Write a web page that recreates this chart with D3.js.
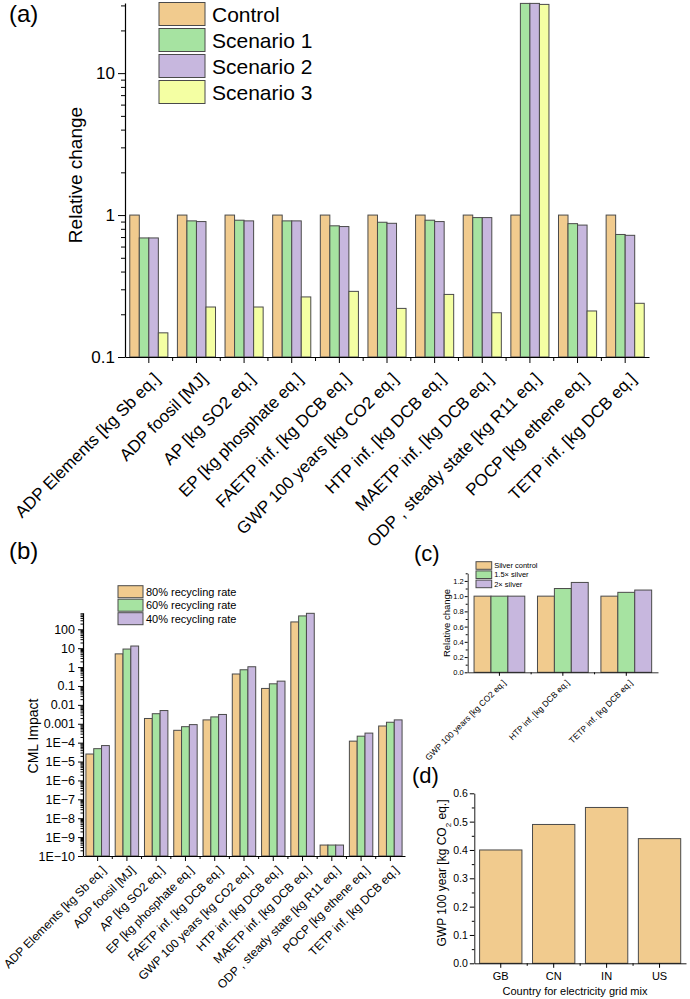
<!DOCTYPE html>
<html>
<head>
<meta charset="utf-8">
<script src="https://cdn.jsdelivr.net/npm/d3@7"></script>
<style>
  body { margin: 0; background: #fff; }
  svg { font-family: Arial, "Liberation Sans", sans-serif; }
  text { fill: #000; }
</style>
</head>
<body>
<div id="chart"></div>
<script>
// ---------- data ----------
const impactCats = ['ADP Elements [kg Sb eq.]', 'ADP foosil [MJ]', 'AP [kg SO2 eq.]', 'EP [kg phosphate eq.]',
  'FAETP inf. [kg DCB eq.]', 'GWP 100 years [kg CO2 eq.]', 'HTP inf. [kg DCB eq.]', 'MAETP inf. [kg DCB eq.]',
  'ODP , steady state [kg R11 eq.]', 'POCP [kg ethene eq.]', 'TETP inf. [kg DCB eq.]'];

// (a) relative change
const scenarioNames = ['Control', 'Scenario 1', 'Scenario 2', 'Scenario 3'];
const control   = [1, 1, 1, 1, 1, 1, 1, 1, 1, 1, 1];
const scenario1 = [0.69, 0.91, 0.92, 0.91, 0.84, 0.89, 0.92, 0.96, 31, 0.87, 0.73];
const scenario2 = [0.69, 0.90, 0.91, 0.91, 0.83, 0.875, 0.90, 0.96, 31, 0.85, 0.72];
const scenario3 = [0.148, 0.225, 0.225, 0.265, 0.29, 0.22, 0.276, 0.205, 30.5, 0.211, 0.239];
const ticksA = [0.1, 1, 10];

// (b) CML impact
const rateNames = ['80% recycling rate', '60% recycling rate', '40% recycling rate'];
const rate80 = [2.5e-5, 5, 0.0019, 4.5e-4, 0.0016, 0.43, 0.074, 245, 3.8e-10, 1.2e-4, 7.6e-4];
const rate60 = [4.8e-5, 9, 0.0034, 7e-4, 0.0023, 0.72, 0.13, 510, 3.8e-10, 2.2e-4, 0.0012];
const rate40 = [7e-5, 13, 0.005, 9e-4, 0.0031, 1.04, 0.18, 700, 3.8e-10, 3.2e-4, 0.0016];
const ticksB = [1e-10, 1e-9, 1e-8, 1e-7, 1e-6, 1e-5, 1e-4, 0.001, 0.01, 0.1, 1, 10, 100];
const tickLabelsB = ['1E\u221210', '1E\u22129', '1E\u22128', '1E\u22127', '1E\u22126', '1E\u22125', '1E\u22124',
  '0.001', '0.01', '0.1', '1', '10', '100'];

// (c) silver
const silverCats = ['GWP 100 years [kg CO2 eq.]', 'HTP inf. [kg DCB eq.]', 'TETP inf. [kg DCB eq.]'];
const silverNames = ['Silver control', '1.5\u00d7 silver', '2\u00d7 silver'];
const silverControl = [1, 1, 1];
const silver15 = [1, 1.1, 1.05];
const silver2 = [1, 1.18, 1.08];
const ticksC = [0, 0.2, 0.4, 0.6, 0.8, 1.0, 1.2];

// (d) grid mix
const countries = ['GB', 'CN', 'IN', 'US'];
const gwpByGrid = [0.4, 0.49, 0.55, 0.44];
const ticksD = [0, 0.1, 0.2, 0.3, 0.4, 0.5, 0.6];

// ---------- setup ----------
const orange = '#F1CB8E', green = '#A6E3A1', purple = '#C7B7DE', yellow = '#F4FFA3';
const outline = '#4a4a4a';

const svg = d3.select('#chart').append('svg')
  .attr('width', 690).attr('height', 999);

function drawBars(g, x, y, cats, seriesList, colors, base) {
  const x1 = d3.scaleBand()
    .domain(d3.range(seriesList.length))
    .range([x.bandwidth() * 0.1, x.bandwidth() * 0.9]);
  seriesList.forEach((vals, s) => {
    g.append('g').selectAll('rect')
      .data(vals)
      .enter()
      .append('rect')
      .attr('x', (d, i) => x(cats[i]) + x1(s))
      .attr('y', d => y(d))
      .attr('width', x1.bandwidth())
      .attr('height', d => base - y(d))
      .attr('fill', colors[s])
      .attr('stroke', outline)
      .attr('stroke-width', 1);
  });
}

function styleAxis(g, size) {
  g.selectAll('.domain').attr('stroke', '#000').attr('stroke-width', 1.2);
  g.selectAll('.tick line').attr('stroke', '#000');
  g.selectAll('text').style('font-size', size + 'px').attr('fill', '#000');
}

// minor ticks on a band axis, at the borders between categories
function bandMinor(g, x, cats, yPos, len) {
  g.append('g').selectAll('line')
    .data(cats.slice(1))
    .enter()
    .append('line')
    .attr('x1', d => x(d)).attr('x2', d => x(d))
    .attr('y1', yPos).attr('y2', yPos + len)
    .attr('stroke', '#000');
}

function legend(g, names, colors, x0, y0, w, h, step, size, gap) {
  names.forEach((n, i) => {
    g.append('rect')
      .attr('x', x0).attr('y', y0 + i * step)
      .attr('width', w).attr('height', h)
      .attr('fill', colors[i]).attr('stroke', outline);
    g.append('text')
      .attr('x', x0 + w + gap).attr('y', y0 + i * step + h / 2)
      .attr('dy', '0.36em')
      .attr('fill', '#000')
      .style('font-size', size + 'px')
      .text(n);
  });
}

// ---------- (a) ----------
const gA = svg.append('g');
const xA = d3.scaleBand().domain(impactCats).range([125, 649]);
const yA = d3.scaleLog().domain([0.1, 31.2]).range([357, 3]);

drawBars(gA, xA, yA, impactCats, [control, scenario1, scenario2, scenario3],
  [orange, green, purple, yellow], yA(0.1));

gA.append('g')
  .attr('transform', 'translate(125,0)')
  .call(d3.axisLeft(yA).tickValues(yA.ticks().filter(v => !ticksA.includes(v))).tickSize(4).tickFormat(''))
  .call(g => g.select('.domain').remove())
  .call(g => styleAxis(g, 17));
gA.append('g')
  .attr('transform', 'translate(125,0)')
  .call(d3.axisLeft(yA).tickValues(ticksA).tickSize(7).tickSizeOuter(0).tickFormat(d => String(d)))
  .call(g => styleAxis(g, 17));

gA.append('g')
  .attr('transform', 'translate(0,357)')
  .call(d3.axisBottom(xA).tickSize(6).tickSizeOuter(0))
  .call(g => styleAxis(g, 17))
  .call(g => g.selectAll('text')
    .attr('y', 0).attr('dy', 0)
    .attr('text-anchor', 'end')
    .attr('transform', 'translate(12,23) rotate(-45)'));
bandMinor(gA, xA, impactCats, 357, 4);

gA.append('text')
  .attr('transform', 'translate(82,175) rotate(-90)')
  .attr('text-anchor', 'middle')
  .style('font-size', '19px')
  .text('Relative change');

legend(gA, scenarioNames, [orange, green, purple, yellow], 159, 2.5, 46, 23, 26, 21, 7);

svg.append('text').attr('x', 9).attr('y', 22).style('font-size', '24px').text('(a)');

// ---------- (b) ----------
const gB = svg.append('g');
const xB = d3.scaleBand().domain(impactCats).range([83, 405]);
const yB = d3.scaleLog().domain([1e-10, 755]).range([856, 612.7]);

drawBars(gB, xB, yB, impactCats, [rate80, rate60, rate40], [orange, green, purple], yB(1e-10));

gB.append('g')
  .attr('transform', 'translate(83,0)')
  .call(d3.axisLeft(yB).tickValues(yB.ticks(30).filter(v => !ticksB.includes(v))).tickSize(2.5).tickFormat(''))
  .call(g => g.select('.domain').remove())
  .call(g => styleAxis(g, 12));
gB.append('g')
  .attr('transform', 'translate(83,0)')
  .call(d3.axisLeft(yB).tickValues(ticksB).tickSize(5).tickSizeOuter(0).tickFormat((d, i) => tickLabelsB[i]))
  .call(g => styleAxis(g, 12.5));

gB.append('g')
  .attr('transform', 'translate(0,856)')
  .call(d3.axisBottom(xB).tickSize(5).tickSizeOuter(0))
  .call(g => styleAxis(g, 12))
  .call(g => g.selectAll('text')
    .attr('y', 0).attr('dy', 0)
    .attr('text-anchor', 'end')
    .attr('transform', 'translate(9,15) rotate(-45)'));
bandMinor(gB, xB, impactCats, 856, 3);

gB.append('text')
  .attr('transform', 'translate(38,736) rotate(-90)')
  .attr('text-anchor', 'middle')
  .style('font-size', '14px')
  .text('CML Impact');

legend(gB, rateNames, [orange, green, purple], 118, 585.7, 25, 12, 13.5, 11, 3);

svg.append('text').attr('x', 9).attr('y', 559).style('font-size', '24px').text('(b)');

// ---------- (c) ----------
const gC = svg.append('g');
const xC = d3.scaleBand().domain(silverCats).range([467.7, 658]);
const yC = d3.scaleLinear().domain([0, 1.3]).range([672.3, 573.3]);

drawBars(gC, xC, yC, silverCats, [silverControl, silver15, silver2], [orange, green, purple], yC(0));

gC.append('g')
  .attr('transform', 'translate(467.7,0)')
  .call(d3.axisLeft(yC).tickValues([0.1, 0.3, 0.5, 0.7, 0.9, 1.1, 1.3]).tickSize(2).tickFormat(''))
  .call(g => g.select('.domain').remove())
  .call(g => styleAxis(g, 7.5));
gC.append('g')
  .attr('transform', 'translate(467.7,0)')
  .call(d3.axisLeft(yC).tickValues(ticksC).tickSize(3).tickSizeOuter(0).tickPadding(1).tickFormat(d3.format('.1f')))
  .call(g => styleAxis(g, 7.5))
  .call(g => g.select('.domain').attr('stroke-width', 0.8));

gC.append('g')
  .attr('transform', 'translate(0,672.3)')
  .call(d3.axisBottom(xC).tickSize(3.5).tickSizeOuter(0))
  .call(g => styleAxis(g, 8.5))
  .call(g => g.select('.domain').attr('stroke-width', 0.8))
  .call(g => g.selectAll('text')
    .attr('y', 0).attr('dy', 0)
    .attr('text-anchor', 'end')
    .attr('transform', 'translate(7,11) rotate(-45)'));
bandMinor(gC, xC, silverCats, 672.3, 2);

gC.append('text')
  .attr('transform', 'translate(450,623) rotate(-90)')
  .attr('text-anchor', 'middle')
  .style('font-size', '9.5px')
  .text('Relative change');

legend(gC, silverNames, [orange, green, purple], 476, 561.7, 15.7, 7.6, 9.2, 7.5, 2.5);

svg.append('text').attr('x', 414).attr('y', 561).style('font-size', '22px').text('(c)');

// ---------- (d) ----------
const gD = svg.append('g');
const xD = d3.scaleBand().domain(countries).range([474.3, 686]);
const yD = d3.scaleLinear().domain([0, 0.6]).range([963.3, 793.3]);

drawBars(gD, xD, yD, countries, [gwpByGrid], [orange], yD(0));

gD.append('g')
  .attr('transform', 'translate(474.3,0)')
  .call(d3.axisLeft(yD).tickValues([0.05, 0.15, 0.25, 0.35, 0.45, 0.55]).tickSize(2.5).tickFormat(''))
  .call(g => g.select('.domain').remove())
  .call(g => styleAxis(g, 10));
gD.append('g')
  .attr('transform', 'translate(474.3,0)')
  .call(d3.axisLeft(yD).tickValues(ticksD).tickSize(4.5).tickSizeOuter(0).tickPadding(2).tickFormat(d3.format('.1f')))
  .call(g => styleAxis(g, 10.5))
  .call(g => g.select('.domain').attr('stroke-width', 0.9));

gD.append('g')
  .attr('transform', 'translate(0,963.3)')
  .call(d3.axisBottom(xD).tickSize(4.5).tickSizeOuter(0).tickPadding(4))
  .call(g => styleAxis(g, 11))
  .call(g => g.select('.domain').attr('stroke-width', 0.9));
bandMinor(gD, xD, countries, 963.3, 2.5);

const yTitleD = gD.append('text')
  .attr('transform', 'translate(446,873) rotate(-90)')
  .attr('text-anchor', 'middle')
  .style('font-size', '12px');
yTitleD.append('tspan').text('GWP 100 year [kg CO');
yTitleD.append('tspan').attr('baseline-shift', 'sub').style('font-size', '8px').text('2');
yTitleD.append('tspan').text(' eq.]');

gD.append('text')
  .attr('x', 575).attr('y', 995)
  .attr('text-anchor', 'middle')
  .style('font-size', '11px')
  .text('Country for electricity grid mix');

svg.append('text').attr('x', 412).attr('y', 783).style('font-size', '22px').text('(d)');
</script>
</body>
</html>
